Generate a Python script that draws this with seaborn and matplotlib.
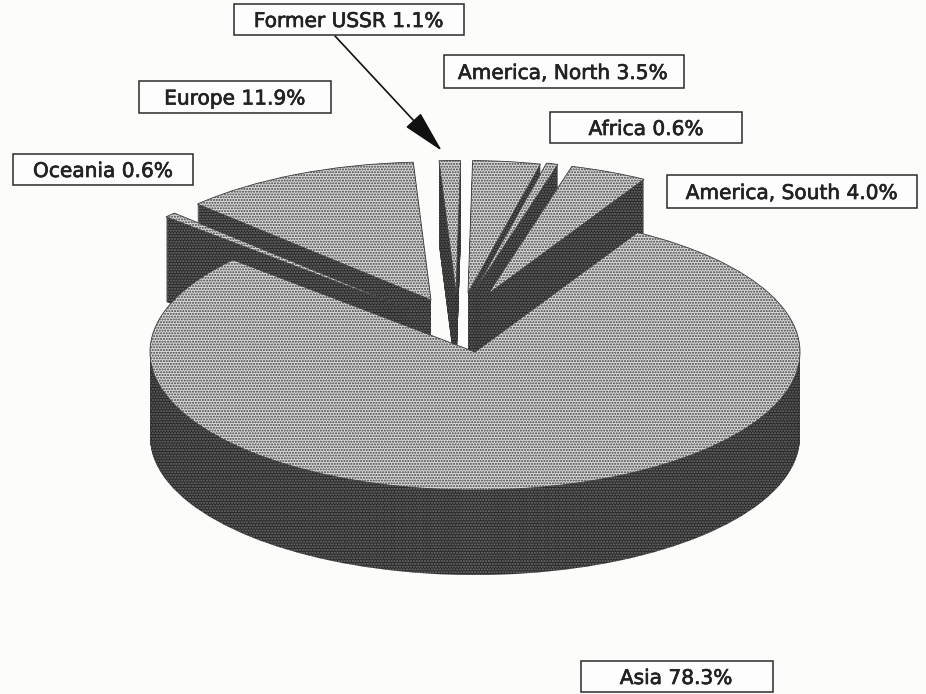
import matplotlib
matplotlib.use("Agg")
import matplotlib.pyplot as plt
import matplotlib.patheffects as pe
from matplotlib.patches import Rectangle
import seaborn as sns

regions = ["America, South", "Africa", "America, North", "Former USSR", "Europe", "Oceania", "Asia"]
shares = [4.0, 0.6, 3.5, 1.1, 11.9, 0.6, 78.3]
label_order = ["Former USSR", "America, North", "Europe", "Africa", "Oceania", "America, South", "Asia"]

# layout constants (pixels)
W, H = 926, 694
RX, RY = 325, 138
OX, OY = 472, 352
DEPTH = 85
apex = [(488, 294), (474, 292), (468, 293), (456, 293), (431, 300), (408, 309), (475, 352)]
radii = [0.96, 0.96, 0.96, 0.96, 1.0, 1.0, 1.0]
rank = [6, 5, 4, 3, 1, 2, 7]
boxes = {"Former USSR": (234, 4, 464, 35), "America, North": (444, 55, 684, 88),
         "Europe": (139, 81, 331, 113), "Africa": (550, 112, 742, 143),
         "Oceania": (13, 154, 193, 185), "America, South": (667, 175, 917, 208),
         "Asia": (581, 661, 773, 692)}
text_x = {"Asia": 676, "Africa": 646, "America, North": 563}

sns.set_theme(style="white")
plt.rcParams["font.family"] = ["DejaVu Sans"]
plt.rcParams["hatch.linewidth"] = 1.0

PAPER = "#fcfcfa"
fig = plt.figure(figsize=(W / 100, H / 100), dpi=100, facecolor=PAPER)
ax = fig.add_axes([0, 0, 1, 1])


def draw_layer(offset, face, edge, lw):
    wedges, _ = ax.pie(shares, startangle=60, colors=[face] * len(shares),
                       wedgeprops=dict(edgecolor=edge, linewidth=lw, hatch="......"))
    for i, w in enumerate(wedges):
        px, py = apex[i]
        w.set_center(((px - OX) / RX, (OY - py - offset) / RY))
        w.set_radius(radii[i])
        w.set_zorder(rank[i] * 1000 + (DEPTH - offset))


for k in range(DEPTH, 0, -1):
    draw_layer(k, "#2a2a2a", "#7a7a7a", 0)
draw_layer(0, "#dadada", "#3e3e3e", 0.6)

ax.set_aspect("auto")
ax.set_xlim(-OX / RX, (W - OX) / RX)
ax.set_ylim(-(H - OY) / RY, OY / RY)
ax.set_facecolor(PAPER)
ax.axis("off")

for name in label_order:
    x0, y0, x1, y1 = boxes[name]
    fig.add_artist(Rectangle((x0 / W, 1 - y1 / H), (x1 - x0) / W, (y1 - y0) / H,
                             transform=fig.transFigure, facecolor="#fdfdfd",
                             edgecolor="#2a2a2a", linewidth=1.1, zorder=20))
    value = shares[regions.index(name)]
    cx = text_x.get(name, (x0 + x1) / 2)
    t = fig.text(cx / W, 1 - (y0 + y1) / 2 / H, f"{name} {value}%", ha="center", va="center_baseline",
                 fontsize=14.5, color="#222222", zorder=21)
    t.set_path_effects([pe.withStroke(linewidth=0.5, foreground="#222222")])

ax.annotate("", xy=(442 / W, 1 - 151 / H), xytext=(335 / W, 1 - 36 / H),
            xycoords="figure fraction", textcoords="figure fraction",
            arrowprops=dict(arrowstyle="-|>,head_length=1.35,head_width=0.32", color="#111111",
                            lw=1.2, mutation_scale=20, shrinkA=0, shrinkB=0))

fig.savefig("out.png", dpi=100, facecolor=PAPER)
